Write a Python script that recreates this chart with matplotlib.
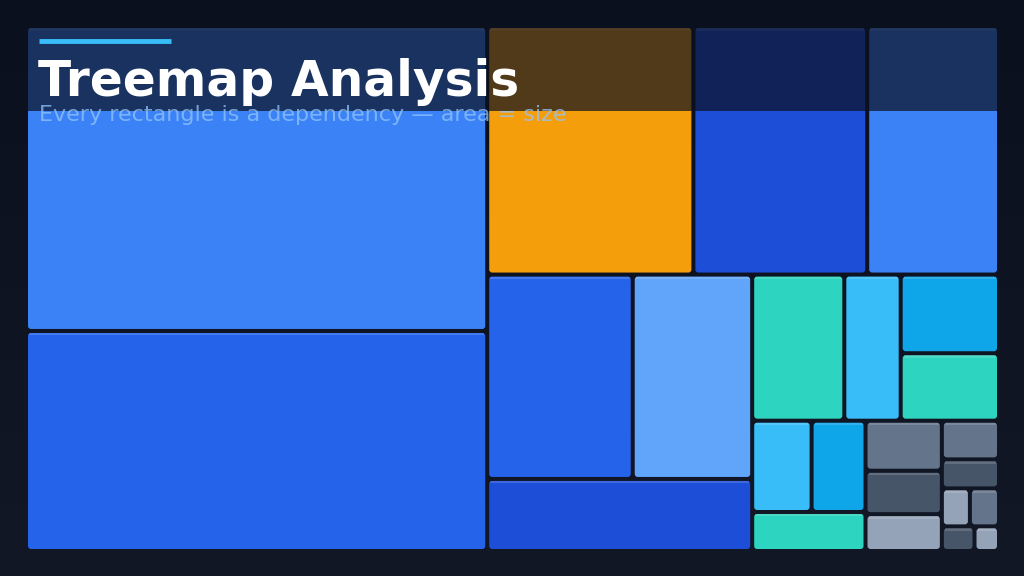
import matplotlib
matplotlib.use("Agg")
import matplotlib.pyplot as plt
from matplotlib.patches import FancyBboxPatch, Rectangle
import numpy as np

names = list("ABCDEFGHIJKLMNOPQRSTUVWX")
values = [140, 101, 51, 43, 32.6, 29.6, 24.3, 19, 13.4, 8.2, 7.7, 6.6,
          5.4, 4.9, 4.4, 3.8, 3.3, 2.8, 2.2, 1.65, 1.06, 1.1, 0.8, 0.6]
colors = ["#3b82f6", "#2563eb", "#f59e0b", "#1d4ed8", "#3b82f6", "#2563eb",
          "#60a5fa", "#1d4ed8", "#2dd4bf", "#38bdf8", "#0ea5e9", "#2dd4bf",
          "#38bdf8", "#0ea5e9", "#2dd4bf", "#64748b", "#475569", "#94a3b8",
          "#64748b", "#475569", "#94a3b8", "#64748b", "#475569", "#94a3b8"]
title = "Treemap Analysis"
subtitle = "Every rectangle is a dependency — area = size"

# layout tree: 'h' = children side by side, 'v' = stacked
tree = ("h", [("v", [0, 1]),
              ("v", [("h", [2, 3, 4]),
                     ("h", [("v", [("h", [5, 6]), 7]),
                            ("v", [("h", [8, 9, ("v", [10, 11])]),
                                   ("h", [("v", [("h", [12, 13]), 14]),
                                          ("v", [15, 16, 17]),
                                          ("v", [18, 19, ("h", [20, 21]), ("h", [22, 23])])])])])])])

def total(n):
    return values[n] if isinstance(n, int) else sum(total(c) for c in n[1])

rects = {}
def layout(n, x, y, w, h):
    if isinstance(n, int):
        rects[n] = (x, y, w, h); return
    d, ch = n
    t = total(n)
    for c in ch:
        f = total(c) / t
        if d == "h":
            layout(c, x, y, w * f, h); x += w * f
        else:
            layout(c, x, y, w, h * f); y += h * f

X0, Y0, X1, Y1 = 26, 26, 999, 551
layout(tree, X0, Y0, X1 - X0, Y1 - Y0)

fig = plt.figure(figsize=(10.24, 5.76), dpi=100)
ax = fig.add_axes([0, 0, 1, 1])
ax.set_xlim(0, 1024); ax.set_ylim(576, 0); ax.axis("off")
grad = np.linspace(0, 1, 256)[:, None]
c0 = np.array([11, 16, 30]) / 255; c1 = np.array([18, 24, 38]) / 255
img = c0 + (c1 - c0) * grad[..., None]
ax.imshow(np.repeat(img, 2, axis=1), extent=[0, 1024, 576, 0], aspect="auto", zorder=0)

g = 2
for i, (x, y, w, h) in rects.items():
    ax.add_patch(FancyBboxPatch((x + g, y + g), w - 2 * g, h - 2 * g,
                                boxstyle="round,pad=0,rounding_size=3",
                                fc=colors[i], ec="none", zorder=2))
    ax.add_patch(Rectangle((x + g + 1, y + g), w - 2 * g - 2, 2.5,
                           fc="white", alpha=0.15, ec="none", zorder=3))

ax.add_patch(Rectangle((28, 28), 969, 83, fc="#0b1020", alpha=0.7, ec="none", zorder=4))
ax.plot([39, 171], [40.5, 40.5], color="#38bdf8", lw=3.5, solid_capstyle="butt", zorder=5)
ax.text(38, 96, title, color="white", fontsize=35, fontweight="bold",
        va="baseline", ha="left", zorder=6)
ax.text(39, 115, subtitle, color="#93c5fd", alpha=0.75, fontsize=16,
        va="center", ha="left", zorder=6)
fig.savefig("out.png", dpi=100)
